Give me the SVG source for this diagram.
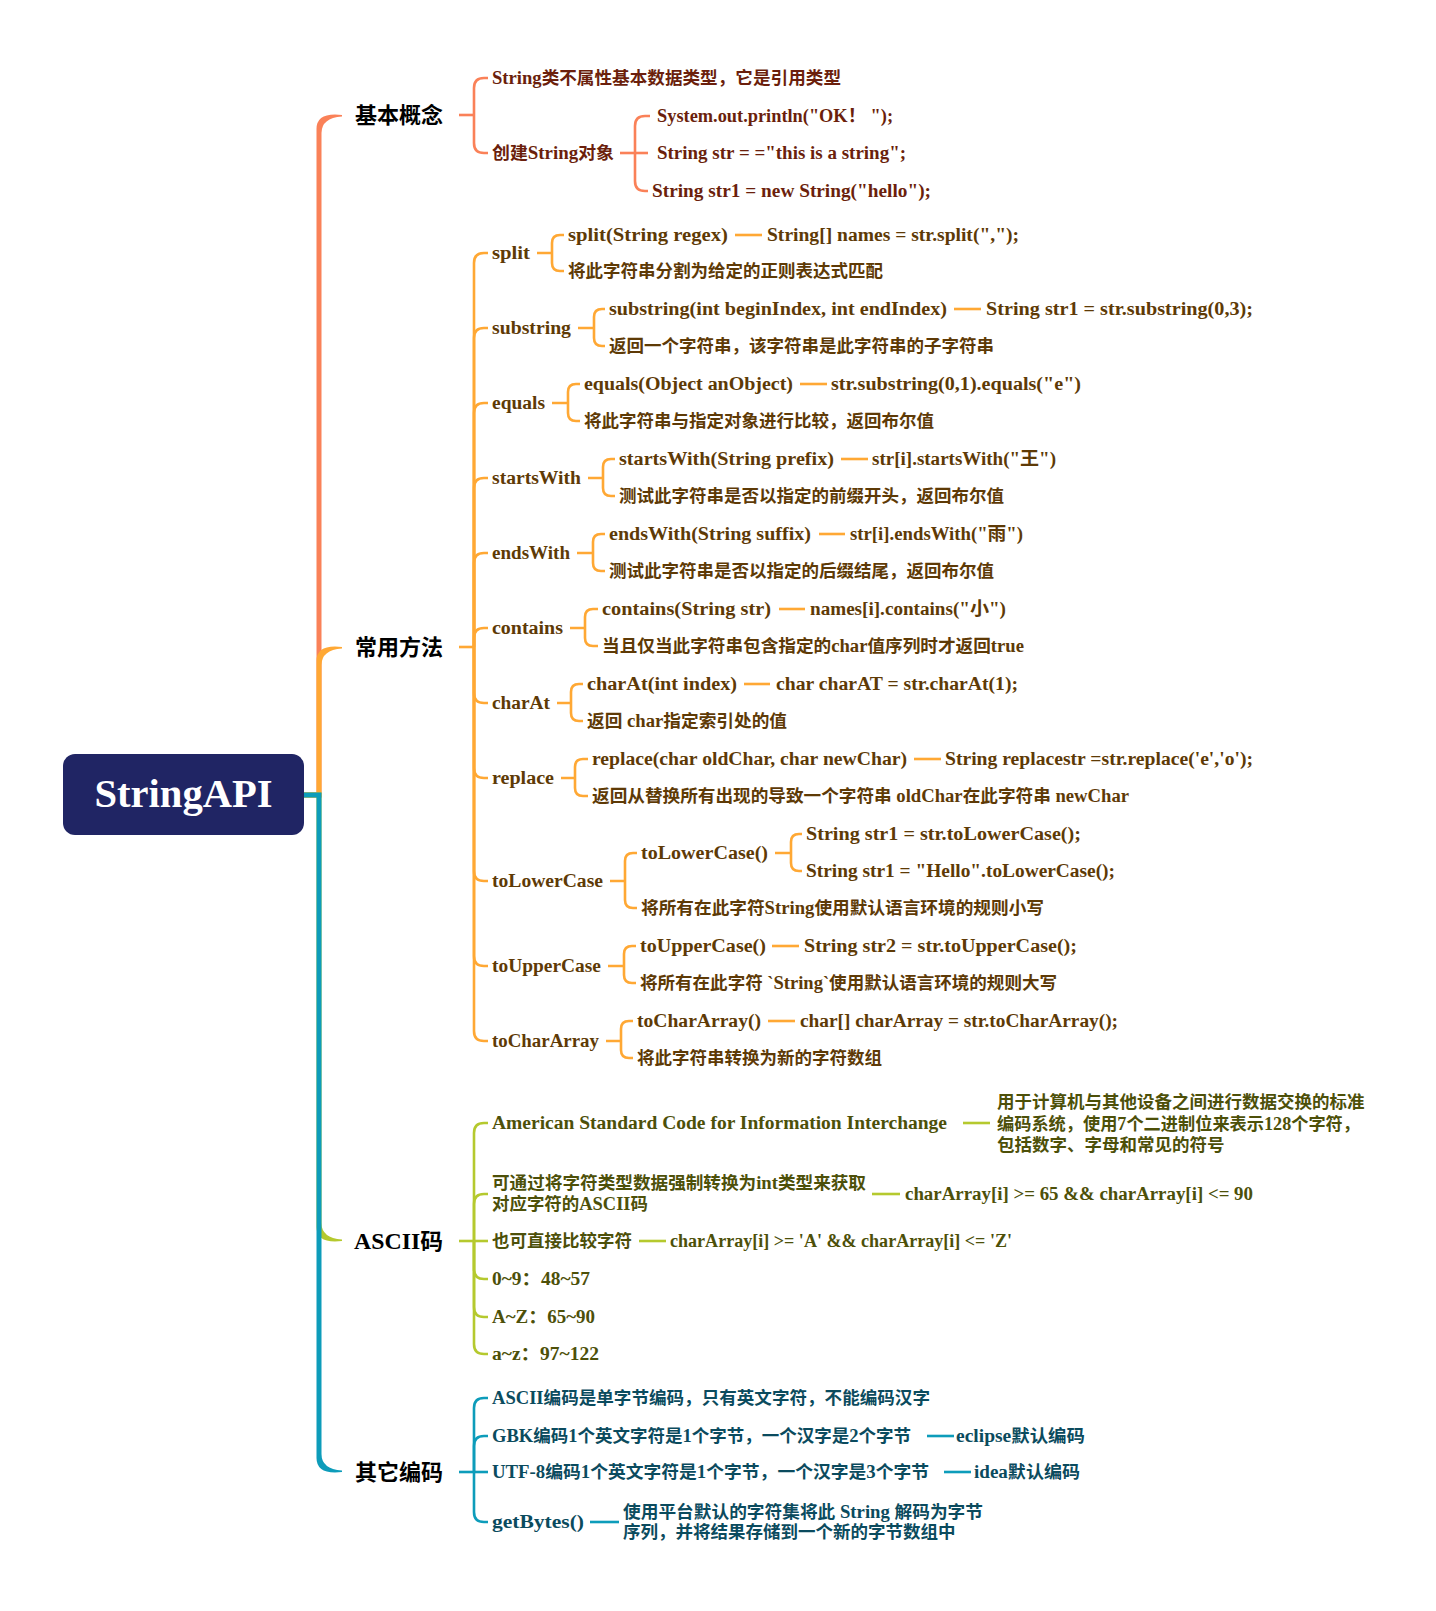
<svg xmlns="http://www.w3.org/2000/svg" width="1436" height="1611" viewBox="0 0 1436 1611">
<style>
.t{font-family:"Liberation Serif","Noto Sans CJK SC",serif;font-weight:bold;font-size:17.5px}
.e{font-size:18.5px}
.m{font-size:22px;fill:#000}
.k1{fill:#6B1F0C}.k2{fill:#5E3A06}.k3{fill:#4D5009}.k4{fill:#0B4B5E}
.l{fill:none;stroke-width:2.6}
.l1{stroke:#FA8158}.l2{stroke:#FFA834}.l3{stroke:#B5C92E}.l4{stroke:#0D9CBA}
</style>
<rect width="1436" height="1611" fill="#fff"/>
<g id="connectors">
<path fill="#FA8158" d="M304,797.5 H321.5 V133 Q321.5,118 342,116.5 L342,115 Q316.5,112 316.5,129 V792.5 H304 Z"/>
<path fill="#FFA834" d="M304,797.5 H321.5 V665 Q321.5,650 342,648.5 L342,647 Q316.5,644 316.5,661 V792.5 H304 Z"/>
<path fill="#B5C92E" d="M304,792.5 H321.5 V1223 Q321.5,1238 342,1239.5 L342,1241 Q316.5,1244 316.5,1227 V797.5 H304 Z"/>
<path fill="#0D9CBA" d="M304,792.5 H321.5 V1454 Q321.5,1469 342,1470.5 L342,1472 Q316.5,1475 316.5,1458 V797.5 H304 Z"/>
<g class="l l1">
<path d="M459,115 H474"/>
<path d="M474,115 V88 Q474,78 484,78 H488"/>
<path d="M474,115 V143 Q474,153 484,153 H488"/>
<path d="M620,153 H648"/>
<path d="M635,153 V126 Q635,116 645,116 H650"/>
<path d="M635,153 V181 Q635,191 645,191 H648"/>
</g>
<g class="l l2">
<path d="M459,647 H474"/>
<path d="M474,647 V263 Q474,253 484,253 H488"/>
<path d="M474,647 V338 Q474,328 484,328 H488"/>
<path d="M474,647 V413 Q474,403 484,403 H488"/>
<path d="M474,647 V488 Q474,478 484,478 H488"/>
<path d="M474,647 V563 Q474,553 484,553 H488"/>
<path d="M474,647 V638 Q474,628 484,628 H488"/>
<path d="M474,647 V693 Q474,703 484,703 H488"/>
<path d="M474,647 V768 Q474,778 484,778 H488"/>
<path d="M474,647 V871 Q474,881 484,881 H488"/>
<path d="M474,647 V956 Q474,966 484,966 H488"/>
<path d="M474,647 V1031 Q474,1041 484,1041 H488"/>
<path d="M537,253 H552 M552,253 V243 Q552,235 560,235 H564 M552,253 V263 Q552,271 560,271 H564"/>
<path d="M578,328 H594 M594,328 V317 Q594,309 602,309 H605 M594,328 V338 Q594,346 602,346 H605"/>
<path d="M552,403 H568 M568,403 V392 Q568,384 576,384 H580 M568,403 V413 Q568,421 576,421 H580"/>
<path d="M588,478 H603 M603,478 V467 Q603,459 611,459 H615 M603,478 V488 Q603,496 611,496 H615"/>
<path d="M577,553 H593 M593,553 V542 Q593,534 601,534 H605 M593,553 V563 Q593,571 601,571 H605"/>
<path d="M570,628 H585 M585,628 V617 Q585,609 593,609 H598 M585,628 V638 Q585,646 593,646 H598"/>
<path d="M557,703 H571 M571,703 V692 Q571,684 579,684 H583 M571,703 V713 Q571,721 579,721 H583"/>
<path d="M561,778 H575 M575,778 V767 Q575,759 583,759 H588 M575,778 V788 Q575,796 583,796 H588"/>
<path d="M610,881 H625 M625,881 V861 Q625,853 633,853 H637 M625,881 V900 Q625,908 633,908 H637"/>
<path d="M775,853 H791 M791,853 V842 Q791,834 799,834 H802 M791,853 V863 Q791,871 799,871 H802"/>
<path d="M608,966 H624 M624,966 V954 Q624,946 632,946 H636 M624,966 V975 Q624,983 632,983 H636"/>
<path d="M606,1041 H621 M621,1041 V1029 Q621,1021 629,1021 H633 M621,1041 V1050 Q621,1058 629,1058 H633"/>
<path d="M735,235 H762"/>
<path d="M954,309 H981"/>
<path d="M800,384 H827"/>
<path d="M841,459 H868"/>
<path d="M819,534 H845"/>
<path d="M779,609 H805"/>
<path d="M744,684 H770"/>
<path d="M914,759 H941"/>
<path d="M772,946 H799"/>
<path d="M768,1021 H795"/>
</g>
<g class="l l3">
<path d="M459,1241 H488"/>
<path d="M474,1241 V1133 Q474,1123 484,1123 H488"/>
<path d="M474,1241 V1204 Q474,1194 484,1194 H488"/>
<path d="M474,1241 V1269 Q474,1279 484,1279 H488"/>
<path d="M474,1241 V1307 Q474,1317 484,1317 H488"/>
<path d="M474,1241 V1344 Q474,1354 484,1354 H488"/>
<path d="M963,1123 H990"/>
<path d="M872,1194 H900"/>
<path d="M639,1241 H666"/>
</g>
<g class="l l4">
<path d="M459,1472 H488"/>
<path d="M474,1472 V1408 Q474,1398 484,1398 H488"/>
<path d="M474,1472 V1446 Q474,1436 484,1436 H488"/>
<path d="M474,1472 V1512 Q474,1522 484,1522 H488"/>
<path d="M927,1436 H954"/>
<path d="M944,1472 H971"/>
<path d="M590,1522 H619"/>
</g>
</g>
<g id="root">
<rect x="63" y="754" width="241" height="81" rx="12" fill="#202564"/>
<text class="t" x="183.5" y="807" text-anchor="middle" style="font-size:40px" fill="#fff" textLength="178" lengthAdjust="spacingAndGlyphs">StringAPI</text>
</g>
<g id="basic">
<text class="t m" x="355" y="123">基本概念</text>
<text class="t k1" x="492" y="84" textLength="349" lengthAdjust="spacingAndGlyphs"><tspan class="e">String</tspan>类不属性基本数据类型，它是引用类型</text>
<text class="t k1" x="492" y="159" textLength="122" lengthAdjust="spacingAndGlyphs">创建<tspan class="e">String</tspan>对象</text>
<text class="t e k1" x="657" y="122" textLength="236" lengthAdjust="spacingAndGlyphs">System.out.println("OK！ ");</text>
<text class="t e k1" x="657" y="159" textLength="249" lengthAdjust="spacingAndGlyphs">String str = ="this is a string";</text>
<text class="t e k1" x="652" y="197" textLength="279" lengthAdjust="spacingAndGlyphs">String str1 = new String("hello");</text>
</g>
<g id="methods">
<text class="t m" x="355" y="655">常用方法</text>
</g>
<g id="split" class="k2">
<text class="t e" x="492" y="259" textLength="38" lengthAdjust="spacingAndGlyphs">split</text>
<text class="t e" x="568" y="241" textLength="160" lengthAdjust="spacingAndGlyphs">split(String regex)</text>
<text class="t e" x="767" y="241" textLength="252" lengthAdjust="spacingAndGlyphs">String[] names = str.split(",");</text>
<text class="t" x="568" y="277">将此字符串分割为给定的正则表达式匹配</text>
</g>
<g id="substring" class="k2">
<text class="t e" x="492" y="334" textLength="79" lengthAdjust="spacingAndGlyphs">substring</text>
<text class="t e" x="609" y="315" textLength="338" lengthAdjust="spacingAndGlyphs">substring(int beginIndex, int endIndex)</text>
<text class="t e" x="986" y="315" textLength="267" lengthAdjust="spacingAndGlyphs">String str1 = str.substring(0,3);</text>
<text class="t" x="609" y="352">返回一个字符串，该字符串是此字符串的子字符串</text>
</g>
<g id="equals" class="k2">
<text class="t e" x="492" y="409" textLength="53" lengthAdjust="spacingAndGlyphs">equals</text>
<text class="t e" x="584" y="390" textLength="209" lengthAdjust="spacingAndGlyphs">equals(Object anObject)</text>
<text class="t e" x="831" y="390" textLength="250" lengthAdjust="spacingAndGlyphs">str.substring(0,1).equals("e")</text>
<text class="t" x="584" y="427">将此字符串与指定对象进行比较，返回布尔值</text>
</g>
<g id="startsWith" class="k2">
<text class="t e" x="492" y="484" textLength="89" lengthAdjust="spacingAndGlyphs">startsWith</text>
<text class="t e" x="619" y="465" textLength="215" lengthAdjust="spacingAndGlyphs">startsWith(String prefix)</text>
<text class="t e" x="872" y="465" textLength="184" lengthAdjust="spacingAndGlyphs">str[i].startsWith("王")</text>
<text class="t" x="619" y="502">测试此字符串是否以指定的前缀开头，返回布尔值</text>
</g>
<g id="endsWith" class="k2">
<text class="t e" x="492" y="559" textLength="78" lengthAdjust="spacingAndGlyphs">endsWith</text>
<text class="t e" x="609" y="540" textLength="202" lengthAdjust="spacingAndGlyphs">endsWith(String suffix)</text>
<text class="t e" x="850" y="540" textLength="173" lengthAdjust="spacingAndGlyphs">str[i].endsWith("雨")</text>
<text class="t" x="609" y="577">测试此字符串是否以指定的后缀结尾，返回布尔值</text>
</g>
<g id="contains" class="k2">
<text class="t e" x="492" y="634" textLength="71" lengthAdjust="spacingAndGlyphs">contains</text>
<text class="t e" x="602" y="615" textLength="169" lengthAdjust="spacingAndGlyphs">contains(String str)</text>
<text class="t e" x="810" y="615" textLength="196" lengthAdjust="spacingAndGlyphs">names[i].contains("小")</text>
<text class="t" x="602" y="652" textLength="422" lengthAdjust="spacingAndGlyphs">当且仅当此字符串包含指定的<tspan class="e">char</tspan>值序列时才返回<tspan class="e">true</tspan></text>
</g>
<g id="charAt" class="k2">
<text class="t e" x="492" y="709" textLength="58" lengthAdjust="spacingAndGlyphs">charAt</text>
<text class="t e" x="587" y="690" textLength="150" lengthAdjust="spacingAndGlyphs">charAt(int index)</text>
<text class="t e" x="776" y="690" textLength="242" lengthAdjust="spacingAndGlyphs">char charAT = str.charAt(1);</text>
<text class="t" x="587" y="727" textLength="200" lengthAdjust="spacingAndGlyphs">返回<tspan class="e"> char</tspan>指定索引处的值</text>
</g>
<g id="replace" class="k2">
<text class="t e" x="492" y="784" textLength="62" lengthAdjust="spacingAndGlyphs">replace</text>
<text class="t e" x="592" y="765" textLength="315" lengthAdjust="spacingAndGlyphs">replace(char oldChar, char newChar)</text>
<text class="t e" x="945" y="765" textLength="308" lengthAdjust="spacingAndGlyphs">String replacestr =str.replace('e','o');</text>
<text class="t" x="592" y="802" textLength="537" lengthAdjust="spacingAndGlyphs">返回从替换所有出现的导致一个字符串<tspan class="e"> oldChar</tspan>在此字符串<tspan class="e"> newChar</tspan></text>
</g>
<g id="toLowerCase" class="k2">
<text class="t e" x="492" y="887" textLength="111" lengthAdjust="spacingAndGlyphs">toLowerCase</text>
<text class="t e" x="641" y="859" textLength="127" lengthAdjust="spacingAndGlyphs">toLowerCase()</text>
<text class="t e" x="806" y="840" textLength="275" lengthAdjust="spacingAndGlyphs">String str1 = str.toLowerCase();</text>
<text class="t e" x="806" y="877" textLength="309" lengthAdjust="spacingAndGlyphs">String str1 = "Hello".toLowerCase();</text>
<text class="t" x="641" y="914" textLength="403" lengthAdjust="spacingAndGlyphs">将所有在此字符<tspan class="e">String</tspan>使用默认语言环境的规则小写</text>
</g>
<g id="toUpperCase" class="k2">
<text class="t e" x="492" y="972" textLength="109" lengthAdjust="spacingAndGlyphs">toUpperCase</text>
<text class="t e" x="640" y="952" textLength="126" lengthAdjust="spacingAndGlyphs">toUpperCase()</text>
<text class="t e" x="804" y="952" textLength="273" lengthAdjust="spacingAndGlyphs">String str2 = str.toUpperCase();</text>
<text class="t" x="640" y="989" textLength="417" lengthAdjust="spacingAndGlyphs">将所有在此字符<tspan class="e"> `String`</tspan>使用默认语言环境的规则大写</text>
</g>
<g id="toCharArray" class="k2">
<text class="t e" x="492" y="1047" textLength="107" lengthAdjust="spacingAndGlyphs">toCharArray</text>
<text class="t e" x="637" y="1027" textLength="124" lengthAdjust="spacingAndGlyphs">toCharArray()</text>
<text class="t e" x="800" y="1027" textLength="318" lengthAdjust="spacingAndGlyphs">char[] charArray = str.toCharArray();</text>
<text class="t" x="637" y="1064">将此字符串转换为新的字符数组</text>
</g>
<g id="ascii" class="k3">
<text class="t m" x="354" y="1249" textLength="89" lengthAdjust="spacingAndGlyphs"><tspan style="font-size:23px">ASCII</tspan>码</text>
<text class="t e" x="492" y="1129" textLength="455" lengthAdjust="spacingAndGlyphs">American Standard Code for Information Interchange</text>
<text class="t" x="997" y="1108">用于计算机与其他设备之间进行数据交换的标准</text>
<text class="t" x="997" y="1130" textLength="363" lengthAdjust="spacingAndGlyphs">编码系统，使用<tspan class="e">7</tspan>个二进制位来表示<tspan class="e">128</tspan>个字符，</text>
<text class="t" x="997" y="1151">包括数字、字母和常见的符号</text>
<text class="t" x="492" y="1189" textLength="374" lengthAdjust="spacingAndGlyphs">可通过将字符类型数据强制转换为<tspan class="e">int</tspan>类型来获取</text>
<text class="t" x="492" y="1210" textLength="156" lengthAdjust="spacingAndGlyphs">对应字符的<tspan class="e">ASCII</tspan>码</text>
<text class="t e" x="905" y="1200" textLength="348" lengthAdjust="spacingAndGlyphs">charArray[i] &gt;= 65 &amp;&amp; charArray[i] &lt;= 90</text>
<text class="t" x="492" y="1247">也可直接比较字符</text>
<text class="t e" x="670" y="1247" textLength="342" lengthAdjust="spacingAndGlyphs">charArray[i] &gt;= 'A' &amp;&amp; charArray[i] &lt;= 'Z'</text>
<text class="t e" x="492" y="1285" textLength="98" lengthAdjust="spacingAndGlyphs">0~9：48~57</text>
<text class="t e" x="492" y="1323" textLength="103" lengthAdjust="spacingAndGlyphs">A~Z：65~90</text>
<text class="t e" x="492" y="1360" textLength="107" lengthAdjust="spacingAndGlyphs">a~z：97~122</text>
</g>
<g id="encoding" class="k4">
<text class="t m" x="355" y="1480">其它编码</text>
<text class="t" x="492" y="1404" textLength="438" lengthAdjust="spacingAndGlyphs"><tspan class="e">ASCII</tspan>编码是单字节编码，只有英文字符，不能编码汉字</text>
<text class="t" x="492" y="1442" textLength="419" lengthAdjust="spacingAndGlyphs"><tspan class="e">GBK</tspan>编码<tspan class="e">1</tspan>个英文字符是<tspan class="e">1</tspan>个字节，一个汉字是<tspan class="e">2</tspan>个字节</text>
<text class="t" x="956" y="1442" textLength="129" lengthAdjust="spacingAndGlyphs"><tspan class="e">eclipse</tspan>默认编码</text>
<text class="t" x="492" y="1478" textLength="437" lengthAdjust="spacingAndGlyphs"><tspan class="e">UTF-8</tspan>编码<tspan class="e">1</tspan>个英文字符是<tspan class="e">1</tspan>个字节，一个汉字是<tspan class="e">3</tspan>个字节</text>
<text class="t" x="974" y="1478" textLength="106" lengthAdjust="spacingAndGlyphs"><tspan class="e">idea</tspan>默认编码</text>
<text class="t e" x="492" y="1528" textLength="92" lengthAdjust="spacingAndGlyphs">getBytes()</text>
<text class="t" x="623" y="1518" textLength="360" lengthAdjust="spacingAndGlyphs">使用平台默认的字符集将此<tspan class="e"> String </tspan>解码为字节</text>
<text class="t" x="623" y="1538">序列，并将结果存储到一个新的字节数组中</text>
</g>
</svg>
